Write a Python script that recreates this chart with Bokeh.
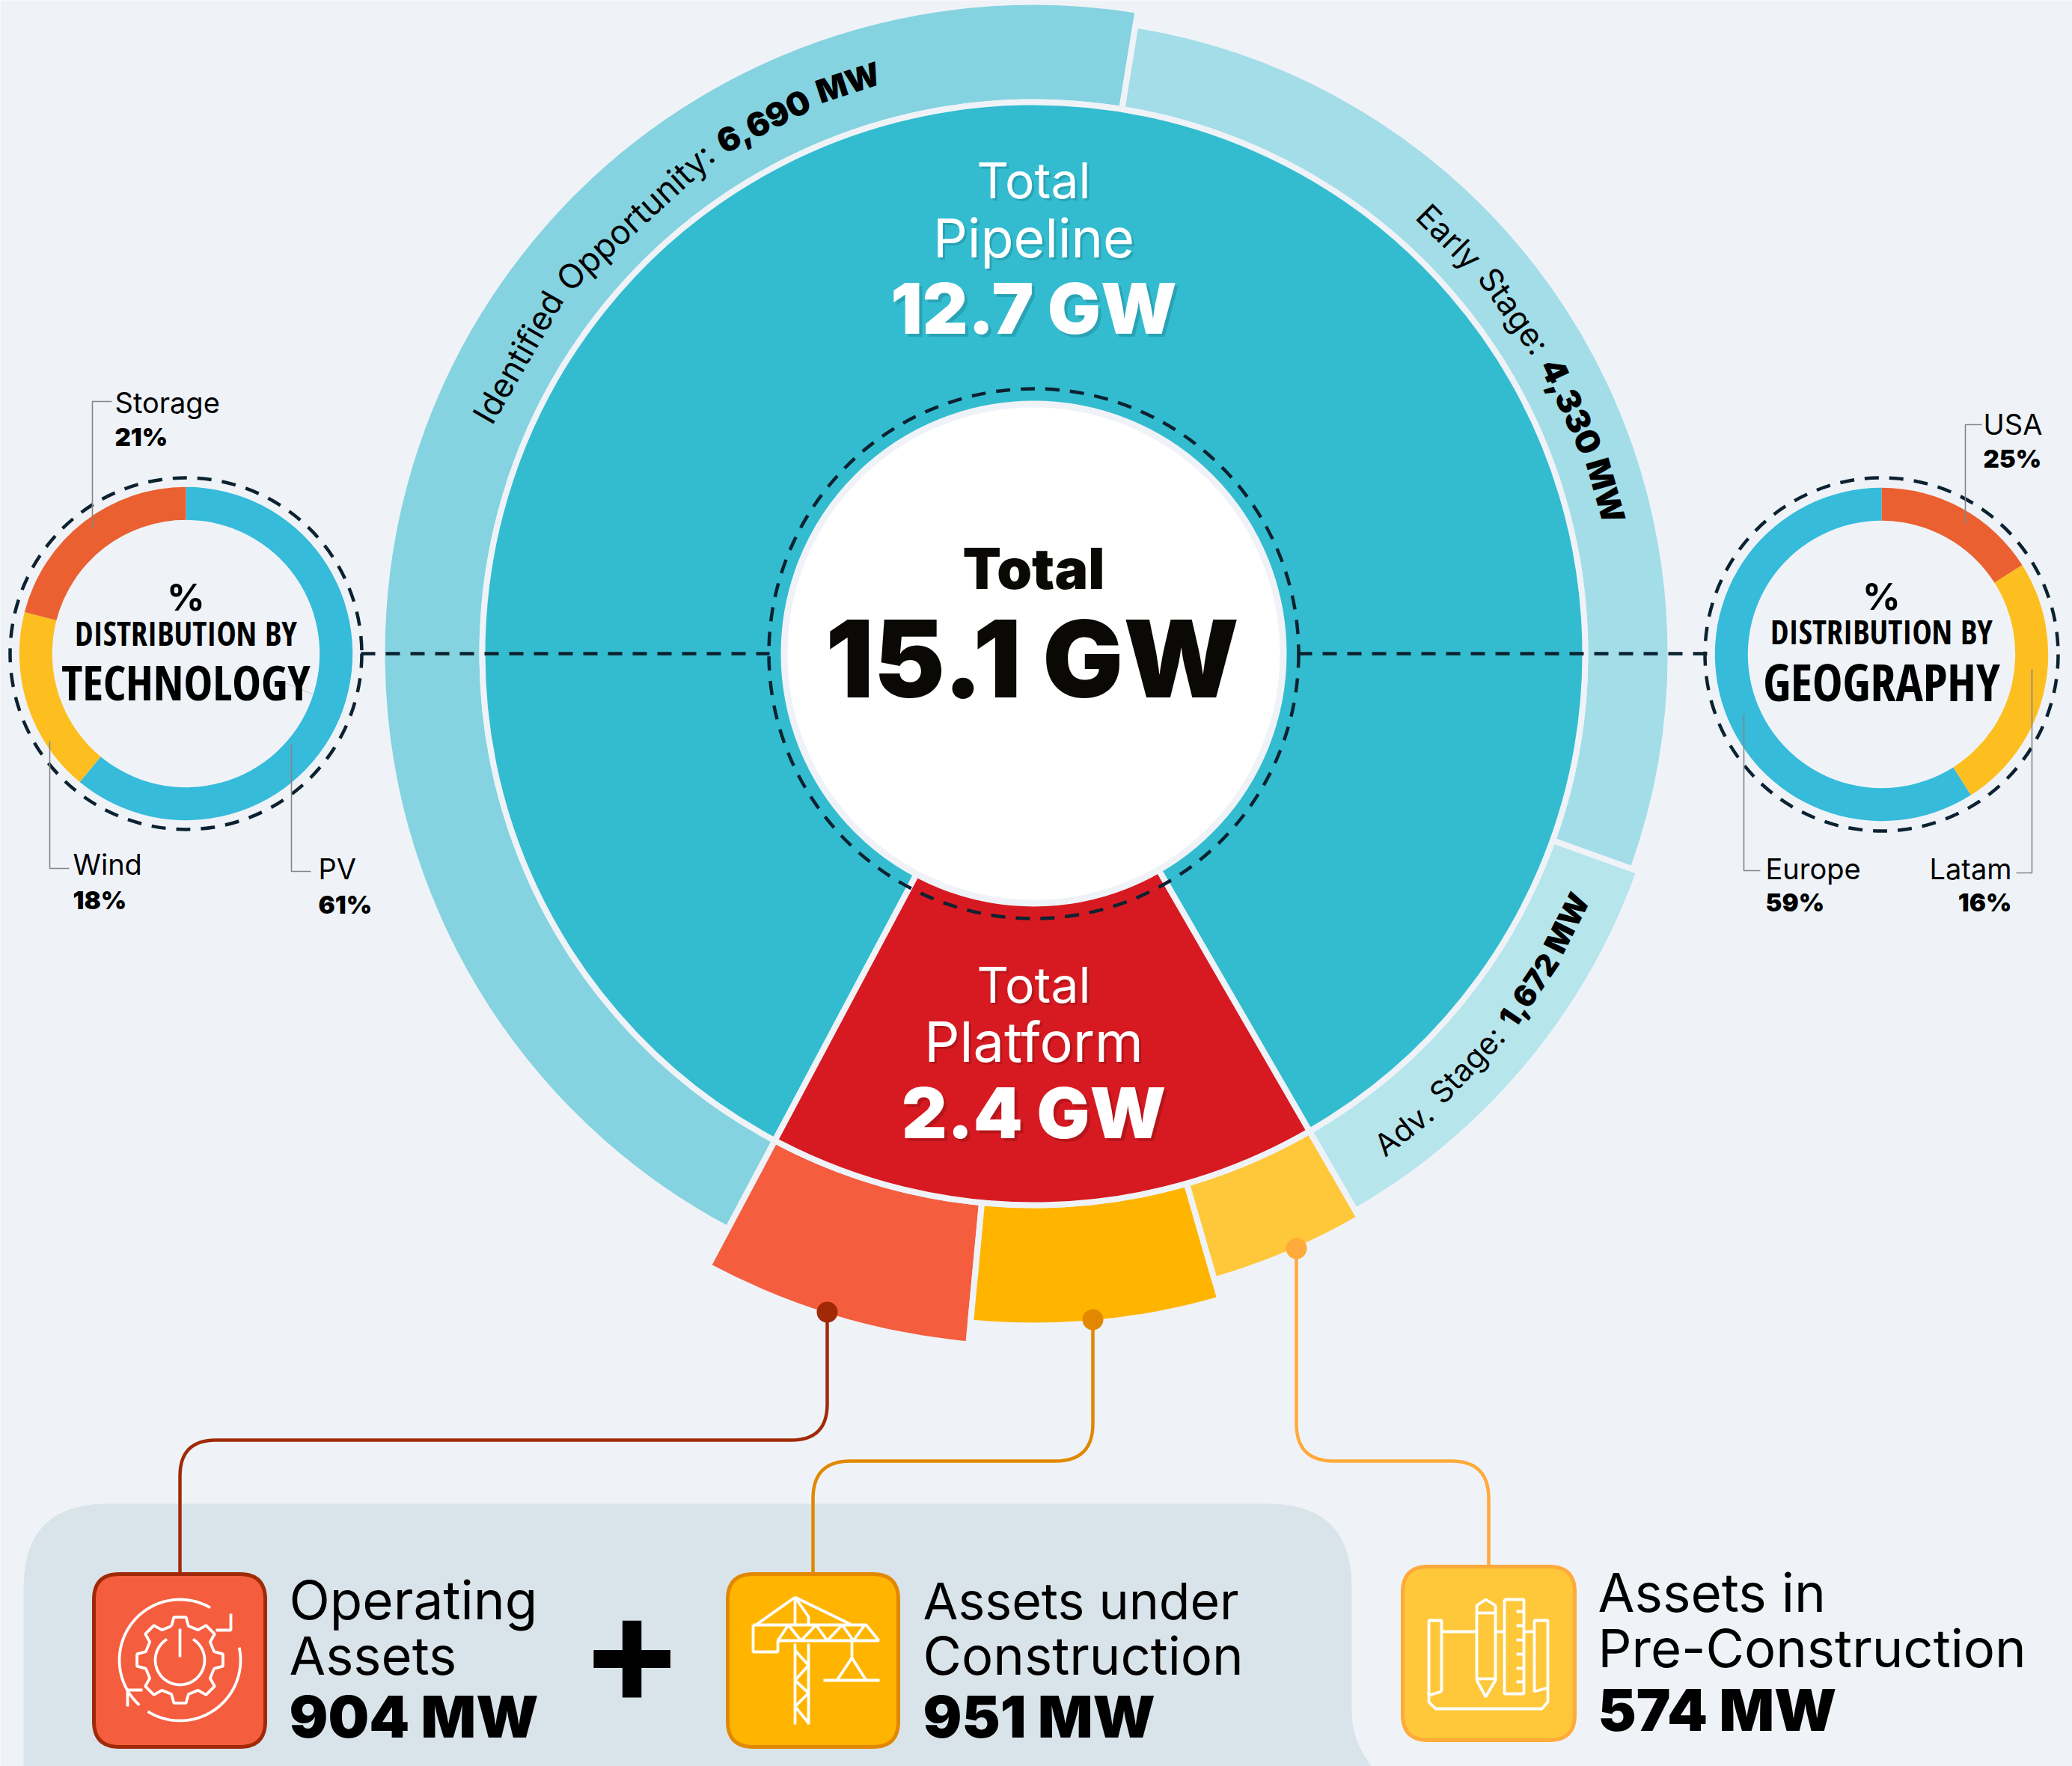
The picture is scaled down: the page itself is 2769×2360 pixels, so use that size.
import math
from bokeh.plotting import figure
from bokeh.models import Range1d
from bokeh.core.properties import value
from bokeh.embed import file_html
from bokeh.resources import INLINE

# ---------- data ----------
pipeline_names = ["Identified Opportunity", "Early Stage", "Adv. Stage"]
pipeline_mw = [6690, 4330, 1672]
pipeline_sweep_deg = [161.2, 100.6, 40.2]
platform_names = ["Operating Assets", "Assets under Construction", "Assets in Pre-Construction"]
platform_mw = [904, 951, 574]
platform_sweep_deg = [22.6, 21.5, 13.9]
platform_outer_radius = [923, 894, 867]
pipeline_outer_radius = [867, 847, 856]
tech_names = ["PV", "Wind", "Storage"]
tech_share = [61, 18, 21]
geo_drawn_share = [16, 25, 59]
geo_drawn_names = ["USA", "Latam", "Europe"]
geo_label_share = {"USA": 25, "Europe": 59, "Latam": 16}

BG = "#eff3f8"; PANEL = "#d9e4ea"; TEAL = "#33bccf"; RED = "#d71a21"
PIPE_COL = ["#85d3e0", "#a3dde8", "#b6e5ec"]
PLAT_COL = ["#f45d3e", "#ffb500", "#ffc83a"]
PLAT_LINE = ["#a02a08", "#e28800", "#ffaa3a"]
RING_TECH = ["#36bbdb", "#fdbf20", "#ea6031"]
RING_GEO = ["#ea6031", "#fdbf20", "#36bbdb"]
DASH = "#0c2231"; INK = "#0b0906"; GREY = "#858585"
REG = "Inter"; BLK = "Inter Black"; NARROW = "Open Sans Condensed"
BASE_SHIFT = {REG: 0.364, BLK: 0.364, NARROW: 0.388}

W, H = 2769, 2360
CX, CY = 1381, 873
def Y(y): return H - y

p = figure(width=W, height=H, x_range=Range1d(0, W), y_range=Range1d(0, H),
           x_axis_type=None, y_axis_type=None, toolbar_location=None, output_backend="svg",
           min_border=0, outline_line_color=None, background_fill_color=BG, border_fill_color=BG)
p.grid.visible = False

def ang(a):            # clockwise-from-down, degrees -> bokeh radians
    return math.radians(-90 - a)

def wedge(cx, cy, r0, r1, a0, a1, col, lw=8, lc=BG):
    p.annular_wedge([cx], [Y(cy)], inner_radius=r0, outer_radius=r1, start_angle=ang(a1), end_angle=ang(a0),
                    fill_color=col, line_color=lc, line_width=lw)

def T(x, y, s, size, font=REG, bold=False, col=INK, align="left", base="alphabetic", angle=0):
    yy = y - BASE_SHIFT.get(font, 0.36)*size if base == "alphabetic" else y
    p.text([x], [Y(yy)], text=[s], text_font=value(font), text_font_size=value(f"{size}px"),
           text_font_style="bold" if bold else "normal", text_color=col, text_align=align,
           text_baseline=base, angle=angle)

def TS(x, y, s, size, font, shadow, d):
    T(x+d, y+d, s, size, font, False, shadow, "center")
    T(x, y, s, size, font, False, "#ffffff", "center")

def line(xs, ys, col, lw, dash=None, cap="butt"):
    kw = {"line_dash": dash} if dash else {}
    p.line(xs, [Y(v) for v in ys], line_color=col, line_width=lw, line_cap=cap, **kw)

def rounded_path(pts, r, n=14):
    xs, ys = [pts[0][0]], [pts[0][1]]
    for i in range(1, len(pts)-1):
        (x0, y0), (x1, y1), (x2, y2) = pts[i-1], pts[i], pts[i+1]
        d0 = math.hypot(x1-x0, y1-y0); d1 = math.hypot(x2-x1, y2-y1)
        ax, ay = x1+(x0-x1)*r/d0, y1+(y0-y1)*r/d0
        bx, by = x1+(x2-x1)*r/d1, y1+(y2-y1)*r/d1
        for k in range(n+1):
            t = k/n
            xs.append((1-t)**2*ax+2*t*(1-t)*x1+t*t*bx)
            ys.append((1-t)**2*ay+2*t*(1-t)*y1+t*t*by)
    xs.append(pts[-1][0]); ys.append(pts[-1][1])
    return xs, ys

def rrect(x0, x1, y0, y1, r):
    m = (x0+x1)/2
    return rounded_path([(m, y0), (x1, y0), (x1, y1), (x0, y1), (x0, y0), (m, y0)], r)

# ---------- panel ----------
px, py = rounded_path([(31, 2360), (31, 2009), (1806, 2009), (1806, 2285)], 112)
cx_, cy_ = rounded_path([(1806, 2285), (1806, 2320), (1832, 2360)], 35)
p.patch(px + cx_, [Y(v) for v in py + cy_], fill_color=PANEL, line_color=None)

# ---------- outer rings ----------
start = 28.0
a = start
for sw, col, r in zip(pipeline_sweep_deg, PIPE_COL, pipeline_outer_radius):
    wedge(CX, CY, 737, r+4, a, a+sw, col)
    a += sw
a = start
for sw, col, r in zip(platform_sweep_deg, PLAT_COL, platform_outer_radius):
    wedge(CX, CY, 737, r+4, a-sw, a, col)
    a -= sw

# ---------- main pie ----------
wedge(CX, CY, 0.001, 737, start, start + sum(pipeline_sweep_deg), TEAL)
wedge(CX, CY, 0.001, 737, start - sum(platform_sweep_deg), start, RED)

p.circle([CX], [Y(CY)], radius=333.5, fill_color="#ffffff", line_color=BG, line_width=9)
p.circle([CX], [Y(CY)], radius=354, fill_color=None, line_color=DASH, line_width=4.5, line_dash="19 14")
line([482, 1028], [CY, CY], DASH, 4.5, "19 14")
line([1734, 2282], [CY, CY], DASH, 4.5, "19 14")

# ---------- connectors ----------
conn = [
    ([(1105, 1753), (1105, 1924), (240, 1924), (240, 2101)], 48),
    ([(1460, 1763), (1460, 1952), (1086, 1952), (1086, 2101)], 50),
    ([(1732, 1668), (1732, 1952), (1989, 1952), (1989, 2091)], 50),
]
for (pts, r), col in zip(conn, PLAT_LINE):
    xs, ys = rounded_path(pts, r)
    line(xs, ys, col, 4.5)
    p.circle([pts[0][0]], [Y(pts[0][1])], radius=14, fill_color=col, line_color=None)

# ---------- small donuts ----------
def donut(cx, cy, shares, cols, rd):
    a = 180.0
    for s, c in zip(shares, cols):
        sw = s*3.6
        wedge(cx, cy, 178.7, 222.7, a, a+sw, c, lw=0, lc=None)
        a += sw
    p.circle([cx], [Y(cy)], radius=rd, fill_color=None, line_color=DASH, line_width=4.5, line_dash="19 14")

donut(248, 873, tech_share, RING_TECH, 235)
donut(2514, 874, geo_drawn_share, RING_GEO, 236)

for xs, ys in [([123, 123, 149], [706, 536, 536]), ([66, 66, 92], [990, 1160, 1160]), ([389, 389, 415], [994, 1164, 1164]),
               ([2626, 2626, 2648], [700, 567, 567]), ([2715, 2715, 2694], [894, 1166, 1166]), ([2330, 2330, 2352], [954, 1163, 1163])]:
    line(xs, ys, GREY, 1.6)
line([380, 418], [912, 927.5], "#c4c8cc", 1)

LAB = 38; PCT = 33
tech_pos = {"Storage": (153, 551, 596), "Wind": (97, 1168, 1215), "PV": (425, 1174, 1221)}
for n, s in zip(tech_names, tech_share):
    x, y0, y1 = tech_pos[n]
    T(x, y0, n, LAB, col="#000000"); T(x, y1, f"{s}%", PCT, BLK, col="#000000")
geo_pos = {"USA": (2650, 580, 625, "left"), "Europe": (2359, 1174, 1218, "left"), "Latam": (2688, 1174, 1218, "right")}
for n in geo_drawn_names:
    x, y0, y1, al = geo_pos[n]
    T(x, y0, n, LAB, align=al, col="#000000"); T(x, y1, f"{geo_label_share[n]}%", PCT, BLK, align=al, col="#000000")

for cx, word, y0, y1, y2, sz in [(248, "TECHNOLOGY", 816, 863, 936, 65), (2514, "GEOGRAPHY", 815, 861, 936, 68)]:
    T(cx, y0, "%", 50, REG, True, "#000000", "center")
    T(cx, y1, "DISTRIBUTION BY", 44, NARROW, True, "#000000", "center")
    T(cx, y2, word, sz, NARROW, True, "#000000", "center")

# ---------- centre texts ----------
T(CX, 786, "Total", 75, BLK, False, INK, "center")
T(1379, 931, "15.1 GW", 143, BLK, False, INK, "center")
TS(CX, 265, "Total", 66, REG, "#29a3b4", 3)
TS(CX, 343, "Pipeline", 72, REG, "#29a3b4", 3)
TS(CX, 446, "12.7 GW", 94, BLK, "#29a3b4", 4)
TS(CX, 1340, "Total", 66, REG, "#b5151b", 3)
TS(CX, 1418, "Platform", 74, REG, "#b5151b", 3)
TS(CX, 1521, "2.4 GW", 94, BLK, "#b5151b", 4)

# ---------- ring words ----------
def ring_top(word, bold, t, r, sz):
    x = CX + r*math.sin(math.radians(t)); y = CY - r*math.cos(math.radians(t))
    T(x, y, word, sz, BLK if bold else REG, False, "#000000", "center", "middle", math.radians(-t))
def ring_bot(word, bold, phi, r, sz):
    x = CX + r*math.cos(math.radians(phi)); y = CY + r*math.sin(math.radians(phi))
    T(x, y, word, sz, BLK if bold else REG, False, "#000000", "center", "middle", math.radians(90-phi))

for w, b, t, r, sz in [("Identified", False, -60.1, 795, 44), ("Opportunity:", False, -42.4, 790, 45),
                       ("6,690", True, -26.9, 798, 44), ("MW", True, -18, 803, 43)]:
    ring_top(w, b, t, r, sz)
for w, b, t, r, sz in [("Early", False, 44.9, 787, 43), ("Stage:", False, 54.5, 789, 43),
                       ("4,330", True, 65.3, 791, 44), ("MW", True, 74.1, 795, 43)]:
    ring_top(w, b, t, r, sz)
for w, b, t, r, sz in [("Adv.", False, 52.1, 805, 41), ("Stage:", False, 43.5, 798, 41),
                       ("1,672", True, 34.2, 800, 40), ("MW", True, 26.8, 798, 41)]:
    ring_bot(w, b, t, r, sz)

# ---------- bottom boxes ----------
boxes = [(123, 356, 2101, 2336), (970, 1202, 2101, 2336), (1872, 2106, 2091, 2327)]
for (x0, x1, y0, y1), c, lc in zip(boxes, PLAT_COL, PLAT_LINE):
    xs, ys = rrect(x0+2, x1-2, y0+2, y1-2, 34)
    p.patch(xs, [Y(v) for v in ys], fill_color=c, line_color=lc, line_width=5)

WH = "#ffffff"
def icon(segs, lw=3.8):
    for xs, ys in segs:
        line(xs, ys, WH, lw)

def arc(cx, cy, r, a0, a1, n=40):
    return ([cx + r*math.cos(math.radians(a0+(a1-a0)*i/n)) for i in range(n+1)],
            [cy + r*math.sin(math.radians(a0+(a1-a0)*i/n)) for i in range(n+1)])
gx, gy = 240, 2218
icon([arc(gx, gy, 81, -12, 122), arc(gx, gy, 81, 132, 300), arc(gx, gy, 33, -58, 238)])
teeth = 8; gxs, gys = [], []
for i in range(teeth):
    c = i*360/teeth - 90
    for off, rr in [(-14, 47), (-8, 58), (8, 58), (14, 47)]:
        gxs.append(gx + rr*math.cos(math.radians(c+off))); gys.append(gy + rr*math.sin(math.radians(c+off)))
gxs.append(gxs[0]); gys.append(gys[0])
icon([(gxs, gys), ([gx, gx], [gy-42, gy-4]),
      ([gx+68, gx+68, gx+48], [gy-62, gy-40, gy-40]), ([gx-70, gx-70, gx-50], [gy+62, gy+40, gy+40])])

icon([([1062, 1011], [2134, 2170]), ([1062, 1136], [2134, 2170]), ([1062, 1062], [2134, 2170]), ([1062, 1080, 1080], [2134, 2160, 2170]),
      ([1006, 1157, 1174, 1039, 1039, 1006, 1006], [2171, 2171, 2192, 2192, 2207, 2207, 2171]),
      ([1039, 1053, 1070, 1090, 1105, 1125, 1140, 1155], [2192, 2171, 2192, 2171, 2192, 2171, 2192, 2171]),
      ([1062, 1062], [2196, 2304]), ([1080, 1080], [2196, 2304]),
      ([1062, 1080, 1062, 1080, 1062, 1080], [2205, 2225, 2245, 2262, 2280, 2302]),
      ([1138, 1138], [2192, 2215]), ([1118, 1138, 1157], [2245, 2215, 2245]), ([1100, 1175], [2245, 2245])])
icon([([1926, 1926, 1909, 1909, 1926], [2260, 2165, 2165, 2265, 2260]),
      ([1909, 1909, 1918, 2060, 2068, 2068, 2050, 2050, 2068, 2068], [2260, 2274, 2283, 2283, 2274, 2255, 2260, 2165, 2165, 2260]),
      ([1926, 1973], [2180, 2180]), ([1998, 2009], [2180, 2180]), ([2036, 2050], [2180, 2180]),
      ([1973, 1973, 1985, 1998, 1998, 1985, 1973], [2245, 2145, 2137, 2145, 2245, 2267, 2245]),
      ([1973, 1998], [2155, 2155]), ([1973, 1998], [2243, 2243]),
      ([2010, 2036, 2036, 2010, 2010], [2137, 2137, 2263, 2263, 2137])])
for yy in [2153, 2172, 2191, 2210, 2229, 2247]:
    line([2026, 2036], [yy, yy], WH, 3.8)

# ---------- bottom texts ----------
for x, y0, y1, y2, a_, b_, c_, s0 in [(386, 2163, 2238, 2322, "Operating", "Assets", f"{platform_mw[0]} MW", 71),
                               (1233, 2163, 2238, 2322, "Assets under", "Construction", f"{platform_mw[1]} MW", 68),
                               (2135, 2153, 2228, 2313, "Assets in", "Pre-Construction", f"{platform_mw[2]} MW", 71)]:
    T(x, y0, a_, s0, REG, False, "#000000"); T(x, y1, b_, 70.5, REG, False, "#000000"); T(x, y2, c_, 77, BLK, False, "#000000")
T(844, 2202, "+", 205, REG, True, "#000000", "center", "middle")

open("out.html", "w").write(file_html(p, INLINE, title="Total 15.1 GW"))
